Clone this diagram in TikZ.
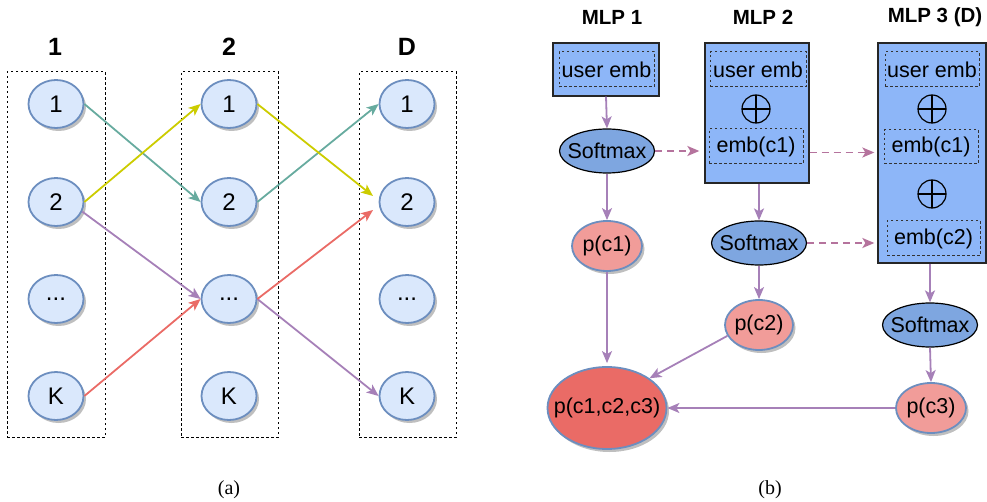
\documentclass[tikz,border=0pt]{standalone}
\usepackage{fontspec}
\setmainfont{Liberation Sans}
\newfontfamily\capfont{Liberation Serif}
\usetikzlibrary{arrows.meta,shadows,calc,shapes.geometric}
\definecolor{nfill}{HTML}{DAE8FC}
\definecolor{nstroke}{HTML}{6C8EBF}
\definecolor{cgreen}{HTML}{67AB9F}
\definecolor{cyellow}{HTML}{CCCC00}
\definecolor{cpurple}{HTML}{A680B8}
\definecolor{cred}{HTML}{EA6B66}
\definecolor{cdash}{HTML}{B5739D}
\definecolor{boxfill}{HTML}{8DB6F8}
\definecolor{smfill}{HTML}{7EA6E0}
\definecolor{pfill}{HTML}{F19C99}
\definecolor{jfill}{HTML}{EA6B66}
\newcommand{\zt}[1]{\makebox[0pt]{#1}}
\begin{document}
\begin{tikzpicture}[x=1pt,y=-1pt,
  shad/.style={drop shadow={shadow xshift=2.5pt,shadow yshift=-3pt,fill=black,opacity=0.25}},
  knode/.style={ellipse, draw=nstroke, line width=1.8pt, fill=nfill, shad, minimum width=55pt, minimum height=48pt, inner sep=0pt, font=\fontsize{24}{28}\selectfont},
  colbox/.style={draw, dash pattern=on 2.5pt off 2.5pt, line width=1pt, minimum height=365pt, inner sep=0pt},
  ttla/.style={font=\fontsize{25}{30}\selectfont\bfseries},
  ttlb/.style={font=\fontsize{20.5}{24}\selectfont\bfseries},
  arr/.style={-{Stealth[length=12pt,width=10pt,inset=3pt]}, line width=1.8pt},
  parr/.style={arr, draw=cpurple},
  darr/.style={-{Stealth[length=12pt,width=10pt,inset=3pt]}, line width=1.8pt, draw=cdash, dash pattern=on 7pt off 5pt},
  mlpbox/.style={draw=black!85, line width=1.3pt, fill=boxfill, inner sep=0pt},
  inbox/.style={draw=black!80, dash pattern=on 2.5pt off 2.5pt, line width=1pt, inner sep=0pt, font=\fontsize{21.5}{25}\selectfont},
  smnode/.style={ellipse, draw=black, line width=1.2pt, fill=smfill, minimum width=95pt, minimum height=44pt, inner sep=0pt, font=\fontsize{21.5}{25}\selectfont},
  pnode/.style={ellipse, draw=nstroke, line width=1.8pt, fill=pfill, shad, minimum width=70pt, minimum height=50pt, inner sep=0pt, font=\fontsize{21.5}{25}\selectfont},
  oplus/.style={circle, draw=black, line width=1.2pt, minimum size=28pt, inner sep=0pt,
    path picture={\draw[line width=1.2pt] (path picture bounding box.north) -- (path picture bounding box.south) (path picture bounding box.west) -- (path picture bounding box.east);}},
  captxt/.style={font=\capfont\fontsize{20}{24}\selectfont}
]
\useasboundingbox (0,0) rectangle (987,502);

% ---------- panel (a) ----------
\node[ttla] (ta) at (55,47) {1};
\node[ttla] (tb) at (229,47) {2};
\node[ttla] (tc) at (407,47) {D};

\node[colbox, minimum width=98pt] (colA) at (56,254.5) {};
\node[colbox, minimum width=97pt] (colB) at (229.5,254.5) {};
\node[colbox, minimum width=97pt] (colC) at (407.5,254.5) {};

\foreach \c/\x in {a/56,b/229,c/407}{
  \node[knode] (\c1) at (\x,104) {\zt{1}};
  \node[knode] (\c2) at (\x,202) {\zt{2}};
  \node[knode] (\c3) at (\x,299) {\zt{...}};
  \node[knode] (\c K) at (\x,396) {\zt{K}};
}

\coordinate (yEnd) at (373,196);
\coordinate (rEnd) at (373,210);

\draw[arr, draw=cgreen] (a1.east) -- (b2.west);
\draw[arr, draw=cgreen] (b2.east) -- (c1.west);
\draw[arr, draw=cyellow] (a2.east) -- (b1.west);
\draw[arr, draw=cyellow] (b1.east) -- (yEnd);
\draw[arr, draw=cpurple] (a2.-20) -- (b3.west);
\draw[arr, draw=cpurple] (b3.east) -- (cK.west);
\draw[arr, draw=cred] (aK.east) -- (b3.west);
\draw[arr, draw=cred] (b3.east) -- (rEnd);

% ---------- panel (b) ----------
\node[ttlb] (m1t) at (612,17) {MLP 1};
\node[ttlb] (m2t) at (763,17) {MLP 2};
\node[ttlb] (m3t) at (935,17) {MLP 3 (D)};

\node[mlpbox, minimum width=106pt, minimum height=53pt] (mlp1) at (606,69.5) {};
\node[inbox, minimum width=95pt, minimum height=35pt] (u1) at (606.5,69.5) {user emb};

\node[mlpbox, minimum width=104pt, minimum height=140pt] (mlp2) at (757,113) {};
\node[inbox, minimum width=96pt, minimum height=35pt] (u2) at (758,69.5) {user emb};
\node[oplus] (o2) at (756,109) {};
\node[inbox, minimum width=94pt, minimum height=35pt] (e2c1) at (756,146.5) {emb(c1)};

\node[mlpbox, minimum width=108pt, minimum height=220pt] (mlp3) at (932,153) {};
\node[inbox, minimum width=94pt, minimum height=35pt] (u3) at (932,69.5) {user emb};
\node[oplus] (o3a) at (932,109) {};
\node[inbox, minimum width=94pt, minimum height=34pt] (e3c1) at (931,147) {emb(c1)};
\node[oplus] (o3b) at (932,194) {};
\node[inbox, minimum width=93pt, minimum height=35pt] (e3c2) at (933.5,238.5) {emb(c2)};

\node[smnode] (sm1) at (607,151) {\zt{Softmax}};
\node[smnode] (sm2) at (759,243) {\zt{Softmax}};
\node[smnode] (sm3) at (930,325) {\zt{Softmax}};

\node[pnode] (pc1) at (607,246) {\zt{p(c1)}};
\node[pnode, minimum width=68pt] (pc2) at (759,325) {\zt{p(c2)}};
\node[pnode] (pc3) at (931,408) {\zt{p(c3)}};
\node[ellipse, draw=nstroke, line width=1.8pt, fill=jfill, shad, minimum width=119pt, minimum height=82pt, inner sep=0pt, font=\fontsize{21.5}{25}\selectfont] (joint) at (607,408) {\zt{p(c1,c2,c3)}};

\draw[parr] (mlp1.south) -- (sm1.north);
\draw[parr] (sm1.south) -- (pc1.north);
\draw[parr, shorten >=3pt] (pc1.south) -- (joint.north);
\draw[parr] (mlp2.south -| sm2.north) -- (sm2.north);
\draw[parr] (sm2.south) -- (pc2.north);
\draw[parr] (pc2.199) -- (joint.35);
\draw[parr] (mlp3.south -| sm3.north) -- (sm3.north);
\draw[parr] (sm3.south) -- (pc3.north);
\draw[parr] (pc3.west) -- (joint.east);

\draw[darr, shorten >=5pt] (sm1.east) -- (sm1.east -| mlp2.west);
\draw[darr, shorten >=3pt] ($(mlp2.east |- e2c1)+(0,6)$) -- ($(mlp3.west |- e2c1)+(0,6)$);
\draw[darr, shorten >=3pt] (sm2.east) -- (sm2.east -| mlp3.west);

% ---------- captions ----------
\node[captxt] (capa) at (229,490) {(a)};
\node[captxt] (capb) at (770,490) {(b)};
\end{tikzpicture}
\end{document}
